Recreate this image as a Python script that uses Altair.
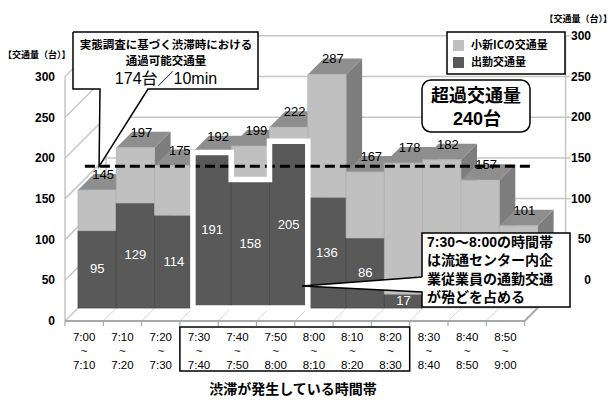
import altair as alt
import pandas as pd

# ---- data -------------------------------------------------------------
slot_start = ["7:00", "7:10", "7:20", "7:30", "7:40", "7:50",
              "8:00", "8:10", "8:20", "8:30", "8:40", "8:50"]
slot_end = ["7:10", "7:20", "7:30", "7:40", "7:50", "8:00",
            "8:10", "8:20", "8:30", "8:40", "8:50", "9:00"]
ic_traffic = [145, 197, 175, 192, 199, 222, 287, 167, 178, 182, 157, 101]
commute_traffic = [95, 129, 114, 191, 158, 205, 136, 86, 17, 0, 0, 0]
capacity_per_10min = 174
excess_traffic = 240
axis_ticks = [0, 50, 100, 150, 200, 250, 300]
congested_slots = [3, 4, 5, 6, 7, 8]      # 7:30 - 8:30
commute_peak_slots = [3, 4, 5]            # 7:30 - 8:00

# ---- geometry of the pseudo-3D box ------------------------------------
W, H = 614, 401
SLOT_PX = 38.3        # width of one 10-minute slot
BAR_X0 = 78.0         # left edge of the first bar's front face
BAR_BASE = 308.0      # baseline of the bar front faces
PX_PER_CAR = 0.814    # vertical scale
BAR_DEPTH = 16.0      # diagonal depth of every bar
FLOOR_FRONT = 13.0    # bars sit this far behind the front edge of the floor
WALL_BACK = 28.0      # back wall sits this far behind the bars


def ux(px):
    return (px - BAR_X0) / SLOT_PX


def uy(py):
    return (BAR_BASE - py) / PX_PER_CAR


N = len(ic_traffic)
DX, DY = BAR_DEPTH / SLOT_PX, BAR_DEPTH / PX_PER_CAR
FX, FY = FLOOR_FRONT / SLOT_PX, FLOOR_FRONT / PX_PER_CAR
BX, BY = WALL_BACK / SLOT_PX, WALL_BACK / PX_PER_CAR

XS = alt.Scale(domain=[ux(0), ux(W)], nice=False, zero=False)
YS = alt.Scale(domain=[uy(H), uy(0)], nice=False, zero=False)

LIGHT, LIGHT_TOP, LIGHT_SIDE, LIGHT_EDGE = "#c0c0c0", "#8e8e8e", "#7d7d7d", "#b2b2b2"
DARK, DARK_SIDE, DARK_EDGE = "#595959", "#424242", "#4a4a4a"
GRID = "#c6c6c6"
JP = "Noto Sans CJK JP"
NUM = "Liberation Sans, Noto Sans CJK JP"


def xq(f="x"):
    return alt.X(f"{f}:Q", scale=XS, axis=None)


def yq(f="y"):
    return alt.Y(f"{f}:Q", scale=YS, axis=None, stack=None)


def path_layer(paths, color, width, **kw):
    rows = []
    for pid, pts in enumerate(paths):
        for k, (x, y) in enumerate(pts):
            rows.append(dict(pid=pid, k=k, x=x, y=y))
    return alt.Chart(pd.DataFrame(rows)).mark_line(
        color=color, strokeWidth=width, **kw
    ).encode(x=xq(), y=yq(), detail="pid:N", order="k:Q")


def rect_layer(rows, **kw):
    return alt.Chart(pd.DataFrame(rows)).mark_rect(**kw).encode(
        x=xq(), x2=alt.X2("x2"), y=yq(), y2=alt.Y2("y2"))


def area_layer(rows):
    return alt.Chart(pd.DataFrame(rows)).mark_area(interpolate="linear").encode(
        x=xq(), y=yq(), y2=alt.Y2("y2"),
        color=alt.Color("fill:N", scale=None), detail="pid:N")


def text_layer(rows, **kw):
    return alt.Chart(pd.DataFrame(rows)).mark_text(**kw).encode(
        x=xq(), y=yq(), text="text:N")


def px_box(x0, y0, x1, y1):
    return dict(x=ux(x0), x2=ux(x1), y=uy(y0), y2=uy(y1))


def triangle(pid, pts):
    # a filled triangle expressed as an area between two piecewise-linear edges
    a, b, c = sorted(pts)
    if b[0] == c[0]:
        return [dict(pid=pid, x=a[0], y=a[1], y2=a[1], fill="white"),
                dict(pid=pid, x=b[0], y=b[1], y2=c[1], fill="white")]
    t = (b[0] - a[0]) / (c[0] - a[0])
    yi = a[1] + t * (c[1] - a[1])
    return [dict(pid=pid, x=a[0], y=a[1], y2=a[1], fill="white"),
            dict(pid=pid, x=b[0], y=b[1], y2=yi, fill="white"),
            dict(pid=pid, x=c[0], y=c[1], y2=c[1], fill="white")]


layers = []

# ---- walls and floor ---------------------------------------------------
top_tick = max(axis_ticks)
back_grid = [[(BX, t + BY), (N + BX, t + BY)] for t in axis_ticks]
left_wall = [[(-FX, t - FY), (BX, t + BY)] for t in axis_ticks]
wall_edges = [[(-FX, -FY), (-FX, top_tick - FY)],
              [(BX, BY), (BX, top_tick + BY)],
              [(N + BX, BY), (N + BX, top_tick + BY)]]
right_ticks = [[(N + BX, t + BY), (N + BX + 5 / SLOT_PX, t + BY)] for t in axis_ticks]
floor_lines = [[(k - FX, -FY), (k + BX, BY)] for k in range(N + 1)]
layers.append(path_layer(floor_lines, "#d4d4d4", 1))
layers.append(path_layer(back_grid + left_wall + wall_edges + right_ticks, GRID, 1.5))
floor_front = [[(-FX, -FY), (N - FX, -FY), (N + BX, BY)]]
layers.append(path_layer(floor_front, "#a8a8a8", 2))
front_ticks = [[(k - FX, -FY), (k - FX, -FY - 5 / PX_PER_CAR)] for k in range(N + 1)]
layers.append(path_layer(front_ticks, "#a8a8a8", 1.2))

# ---- bars --------------------------------------------------------------
sides, tops, fronts = [], [], []
pid = 0
for i, (t, c) in enumerate(zip(ic_traffic, commute_traffic)):
    segs = []
    if c > 0:
        segs.append((0, c, DARK, DARK_SIDE, DARK_EDGE))
    segs.append((c, t, LIGHT, LIGHT_SIDE, LIGHT_EDGE))
    for lo, hi, fc, sc, ec in segs:
        fronts.append(dict(x=i, x2=i + 1, y=lo, y2=hi, fill=fc, edge=ec))
        sides += [dict(pid=pid, x=i + 1, y=lo, y2=hi, fill=sc),
                  dict(pid=pid, x=i + 1 + DX, y=lo + DY, y2=hi + DY, fill=sc)]
        pid += 1
    tops += [dict(pid=pid, x=i, y=t, y2=t, fill=LIGHT_TOP),
             dict(pid=pid, x=i + DX, y=t, y2=t + DY, fill=LIGHT_TOP),
             dict(pid=pid, x=i + 1, y=t, y2=t + DY, fill=LIGHT_TOP),
             dict(pid=pid, x=i + 1 + DX, y=t + DY, y2=t + DY, fill=LIGHT_TOP)]
    pid += 1

layers.append(area_layer(sides))
layers.append(area_layer(tops))
layers.append(alt.Chart(pd.DataFrame(fronts)).mark_rect(strokeWidth=0.8).encode(
    x=xq(), x2=alt.X2("x2"), y=yq(), y2=alt.Y2("y2"),
    color=alt.Color("fill:N", scale=None), stroke=alt.Stroke("edge:N", scale=None)))

# value labels
total_labels = [dict(x=i + 0.5 + 6 / SLOT_PX, y=t + 15 / PX_PER_CAR, text=str(t))
                for i, t in enumerate(ic_traffic)]
commute_labels = [dict(x=i + 0.5, y=c / 2, text=str(c))
                  for i, c in enumerate(commute_traffic) if c > 0]
layers.append(text_layer(total_labels, font=NUM, fontSize=13, color="black", baseline="middle"))
layers.append(text_layer(commute_labels, font=NUM, fontSize=13, color="white", baseline="middle"))

# passable capacity under congestion
cap_df = pd.DataFrame([dict(x=0.18, x2=11.9, y=capacity_per_10min)])
layers.append(alt.Chart(cap_df).mark_rule(color="black", strokeWidth=3, strokeDash=[10, 5]).encode(
    x=xq(), x2=alt.X2("x2"), y=yq()))

# white frame around the commuter-dominated bars
s0, s1 = commute_peak_slots[0], commute_peak_slots[-1]
frame = [(s0, 0), (s0, commute_traffic[s0])]
for s in commute_peak_slots:
    frame += [(s, commute_traffic[s]), (s + 1, commute_traffic[s])]
frame += [(s1 + 1, 0), (s0, 0)]
layers.append(path_layer([frame], "white", 5.5, strokeJoin="miter", strokeCap="square"))

# ---- callout: passable capacity ---------------------------------------
apex1 = (0.55, capacity_per_10min)
box1 = (73, 32, 258, 89)
tail1 = [(ux(100), uy(89)), (ux(148), uy(89)), apex1]
layers.append(rect_layer([px_box(*box1)], fill="white"))
layers.append(area_layer(triangle(0, tail1)))
outline1 = [(ux(box1[0]), uy(box1[1])), (ux(box1[2]), uy(box1[1])), (ux(box1[2]), uy(box1[3])),
            (ux(148), uy(89)), apex1, (ux(100), uy(89)),
            (ux(box1[0]), uy(box1[3])), (ux(box1[0]), uy(box1[1]))]
layers.append(path_layer([outline1], "black", 1.5, strokeJoin="miter"))
layers.append(text_layer([dict(x=ux(166), y=uy(46), text="実態調査に基づく渋滞時における"),
                          dict(x=ux(166), y=uy(62), text="通過可能交通量")],
                         font=JP, fontSize=11.5, fontWeight="bold", baseline="middle"))
layers.append(text_layer([dict(x=ux(166), y=uy(79), text=f"{capacity_per_10min}台／10min")],
                         font=NUM, fontSize=16, baseline="middle"))

# ---- callout: commuter traffic ----------------------------------------
box2 = (422, 233, 570, 307)
tail2 = [(ux(302), uy(286)), (ux(422), uy(277)), (ux(422), uy(292))]
layers.append(rect_layer([px_box(*box2)], fill="white"))
layers.append(area_layer(triangle(0, tail2)))
outline2 = [(ux(422), uy(277)), (ux(422), uy(233)), (ux(570), uy(233)), (ux(570), uy(307)),
            (ux(422), uy(307)), (ux(422), uy(292)), (ux(302), uy(286)), (ux(422), uy(277))]
layers.append(path_layer([outline2], "black", 1.5, strokeJoin="miter"))
note_lines = [f"{slot_start[s0]}～{slot_end[s1]}の時間帯", "は流通センター内企",
              "業従業員の通勤交通", "が殆どを占める"]
layers.append(text_layer([dict(x=ux(427), y=uy(243 + 18.3 * k), text=s) for k, s in enumerate(note_lines)],
                         font=NUM, fontSize=14, fontWeight="bold", align="left", baseline="middle"))

# ---- legend -----------------------------------------------------------
layers.append(rect_layer([px_box(447, 32, 565, 74)], fill="white", stroke="black", strokeWidth=1.5))
layers.append(alt.Chart(pd.DataFrame([
    dict(px_box(453, 40, 464, 51), fill=LIGHT),
    dict(px_box(453, 57, 464, 68), fill=DARK)])).mark_rect().encode(
    x=xq(), x2=alt.X2("x2"), y=yq(), y2=alt.Y2("y2"), color=alt.Color("fill:N", scale=None)))
layers.append(text_layer([dict(x=ux(471), y=uy(46), text="小新ICの交通量"),
                          dict(x=ux(471), y=uy(63), text="出勤交通量")],
                         font=JP, fontSize=11, fontWeight="bold", align="left", baseline="middle"))

# ---- excess traffic box -----------------------------------------------
layers.append(rect_layer([px_box(422, 80, 530, 132)], fill="white", stroke="black",
                         strokeWidth=1.5, cornerRadius=9))
layers.append(text_layer([dict(x=ux(476), y=uy(97), text="超過交通量"),
                          dict(x=ux(477), y=uy(120), text=f"{excess_traffic}台")],
                         font=NUM, fontSize=18, fontWeight="bold", baseline="middle"))

# ---- axes -------------------------------------------------------------
left_labels = [dict(x=ux(55), y=t - FY, text=str(t)) for t in axis_ticks]
right_labels = [dict(x=ux(591), y=t + BY, text=str(t)) for t in axis_ticks]
layers.append(text_layer(left_labels + right_labels, font=NUM, fontSize=12, fontWeight="bold",
                         align="right", baseline="middle"))
layers.append(text_layer([dict(x=ux(3), y=uy(55), text="【交通量（台）】")],
                         font=JP, fontSize=9, fontWeight="bold", align="left", baseline="middle"))
layers.append(text_layer([dict(x=ux(612), y=uy(19), text="【交通量（台）】")],
                         font=JP, fontSize=9, fontWeight="bold", align="right", baseline="middle"))

x_labels = [dict(x=k + 0.5 - FX, y=uy(332), text=f"{a}\n~\n{b}")
            for k, (a, b) in enumerate(zip(slot_start, slot_end))]
layers.append(text_layer(x_labels, font=NUM, fontSize=11.5, baseline="top", lineBreak="\n",
                         lineHeight=14))
c0, c1 = congested_slots[0], congested_slots[-1] + 1
layers.append(rect_layer([dict(x=c0 - FX, x2=c1 - FX, y=uy(327), y2=uy(371))],
                         filled=False, stroke="black", strokeWidth=1.5))
layers.append(text_layer([dict(x=ux(293), y=uy(390), text="渋滞が発生している時間帯")],
                         font=JP, fontSize=14, fontWeight="bold", baseline="middle"))

chart = alt.layer(*layers).properties(
    width=W, height=H, autosize=alt.AutoSizeParams(type="none"), padding=0,
    background="white"
).configure_view(stroke=None)

chart.save("out.html", embed_options={"renderer": "svg", "actions": False})
